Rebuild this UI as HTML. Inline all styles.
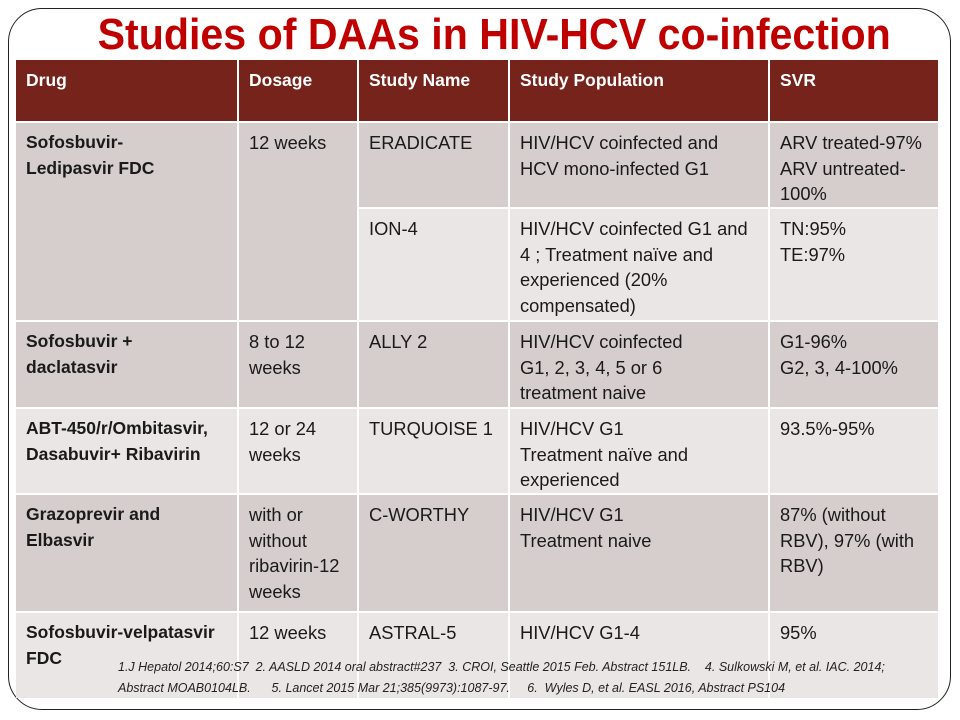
<!DOCTYPE html>
<html><head><meta charset="utf-8"><style>
*{margin:0;padding:0;box-sizing:border-box}
body{width:960px;height:720px;background:#fff;position:relative;overflow:hidden;font-family:"Liberation Sans",sans-serif}
.frame{position:absolute;left:8px;top:8px;width:943px;height:702px;border:1.5px solid #222;border-radius:34px}
.title{position:absolute;left:0;top:10px;width:988px;text-align:center;color:#c00000;font-weight:bold;font-size:44px;line-height:50px;white-space:nowrap}
.title span{display:inline-block;transform:scaleX(0.935)}
.c{position:absolute;padding:7px 0 0 10px;font-size:18.3px;line-height:25.5px;color:#1a1a1a;white-space:nowrap;overflow:hidden}
.h{background:#76231c;color:#fff;font-weight:bold;padding-top:8px;font-size:17.5px}
.d{background:#d6cdcd}
.l{background:#ebe6e6}
.b{font-weight:bold;font-size:17.5px}
.fn{position:absolute;left:118px;font-size:12.5px;font-style:italic;color:#222;white-space:nowrap}
</style></head><body>
<div class="frame"></div>
<div class="title"><span>Studies of DAAs in HIV-HCV co-infection</span></div>

<div class="c h" style="left:16px;top:60px;width:221px;height:61px">Drug</div>
<div class="c h" style="left:239px;top:60px;width:118px;height:61px">Dosage</div>
<div class="c h" style="left:359px;top:60px;width:149px;height:61px">Study Name</div>
<div class="c h" style="left:510px;top:60px;width:258px;height:61px">Study Population</div>
<div class="c h" style="left:770px;top:60px;width:168px;height:61px">SVR</div>

<div class="c d b" style="left:16px;top:123px;width:221px;height:197px">Sofosbuvir-<br>Ledipasvir FDC</div>
<div class="c d" style="left:239px;top:123px;width:118px;height:197px">12 weeks</div>
<div class="c d" style="left:359px;top:123px;width:149px;height:84px">ERADICATE</div>
<div class="c d" style="left:510px;top:123px;width:258px;height:84px">HIV/HCV coinfected and<br>HCV mono-infected G1</div>
<div class="c d" style="left:770px;top:123px;width:168px;height:84px">ARV treated-97%<br>ARV untreated-<br>100%</div>
<div class="c l" style="left:359px;top:209px;width:149px;height:111px">ION-4</div>
<div class="c l" style="left:510px;top:209px;width:258px;height:111px">HIV/HCV coinfected G1 and<br>4 ; Treatment naïve and<br>experienced (20%<br>compensated)</div>
<div class="c l" style="left:770px;top:209px;width:168px;height:111px">TN:95%<br>TE:97%</div>

<div class="c d b" style="left:16px;top:322px;width:221px;height:85px">Sofosbuvir +<br>daclatasvir</div>
<div class="c d" style="left:239px;top:322px;width:118px;height:85px">8 to 12<br>weeks</div>
<div class="c d" style="left:359px;top:322px;width:149px;height:85px">ALLY 2</div>
<div class="c d" style="left:510px;top:322px;width:258px;height:85px">HIV/HCV coinfected<br>G1, 2, 3, 4, 5 or 6<br>treatment naive</div>
<div class="c d" style="left:770px;top:322px;width:168px;height:85px">G1-96%<br>G2, 3, 4-100%</div>

<div class="c l b" style="left:16px;top:409px;width:221px;height:84px">ABT-450/r/Ombitasvir,<br>Dasabuvir+ Ribavirin</div>
<div class="c l" style="left:239px;top:409px;width:118px;height:84px">12 or 24<br>weeks</div>
<div class="c l" style="left:359px;top:409px;width:149px;height:84px">TURQUOISE 1</div>
<div class="c l" style="left:510px;top:409px;width:258px;height:84px">HIV/HCV G1<br>Treatment naïve and<br>experienced</div>
<div class="c l" style="left:770px;top:409px;width:168px;height:84px">93.5%-95%</div>

<div class="c d b" style="left:16px;top:495px;width:221px;height:116px">Grazoprevir and<br>Elbasvir</div>
<div class="c d" style="left:239px;top:495px;width:118px;height:116px">with or<br>without<br>ribavirin-12<br>weeks</div>
<div class="c d" style="left:359px;top:495px;width:149px;height:116px">C-WORTHY</div>
<div class="c d" style="left:510px;top:495px;width:258px;height:116px">HIV/HCV G1<br>Treatment naive</div>
<div class="c d" style="left:770px;top:495px;width:168px;height:116px">87% (without<br>RBV), 97% (with<br>RBV)</div>

<div class="c l b" style="left:16px;top:613px;width:221px;height:85px">Sofosbuvir-velpatasvir<br>FDC</div>
<div class="c l" style="left:239px;top:613px;width:118px;height:85px">12 weeks</div>
<div class="c l" style="left:359px;top:613px;width:149px;height:85px">ASTRAL-5</div>
<div class="c l" style="left:510px;top:613px;width:258px;height:85px">HIV/HCV G1-4</div>
<div class="c l" style="left:770px;top:613px;width:168px;height:85px">95%</div>

<div class="fn" style="top:660px">1.J Hepatol 2014;60:S7 &nbsp;2. AASLD 2014 oral abstract#237 &nbsp;3. CROI, Seattle 2015 Feb. Abstract 151LB. &nbsp;&nbsp;&nbsp;4. Sulkowski M, et al. IAC. 2014;</div>
<div class="fn" style="top:681px">Abstract MOAB0104LB. &nbsp;&nbsp;&nbsp;&nbsp;&nbsp;5. Lancet 2015 Mar 21;385(9973):1087-97. &nbsp;&nbsp;&nbsp;&nbsp;6. &nbsp;Wyles D, et al. EASL 2016, Abstract PS104</div>
</body></html>
